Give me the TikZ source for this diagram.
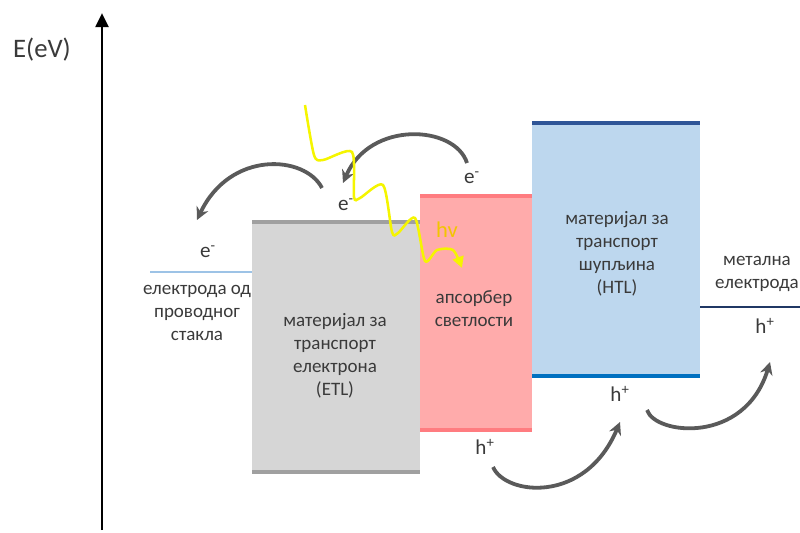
\documentclass[tikz,border=0pt]{standalone}
\usepackage{fontspec}
\setmainfont{Carlito}
\usepackage{xcolor}
\definecolor{txtgray}{HTML}{3A3A3A}
\definecolor{etlfill}{HTML}{D6D6D6}
\definecolor{etledge}{HTML}{A0A0A0}
\definecolor{absfill}{HTML}{FFABAB}
\definecolor{absedge}{HTML}{FF7C80}
\definecolor{htlfill}{HTML}{BDD7EE}
\definecolor{htltop}{HTML}{2F5597}
\definecolor{htlbot}{HTML}{0070C0}
\definecolor{ftoline}{HTML}{9DC3E6}
\definecolor{metline}{HTML}{203864}
\definecolor{hopgray}{HTML}{5A5A5A}
\definecolor{photon}{HTML}{F5F500}
\definecolor{photontxt}{HTML}{F2C500}
\usetikzlibrary{arrows.meta}

\begin{document}
\begin{tikzpicture}[
    x=0.025cm, y=-0.025cm,
    layer/.style={align=center, text=txtgray, inner sep=0pt,
      font=\fontsize{13.5}{16.3}\selectfont},
    carrier/.style={text=txtgray, inner sep=0pt, font=\fontsize{15}{17}\selectfont},
    hop/.style={-{Stealth[length=9pt, width=9pt]}, line width=2.7pt, draw=hopgray},
    edge/.style={line width=2.2pt}
]
  \useasboundingbox (0,0) rectangle (800,532);

  % Energy axis
  \draw[line width=2.1pt, -{Triangle[length=10pt, width=9pt]}] (102,530) -- (102,13);
  \node[text=txtgray, font=\fontsize{19}{22}\selectfont] (axis) at (42,50) {E(eV)};

  % Electrodes
  \draw[line width=1.6pt, ftoline] (150,272) -- (252,272);
  \draw[line width=2pt, metline] (700,307) -- (800,307);

  % ETL
  \fill[etlfill] (252,222) rectangle (420,472);
  \draw[edge, etledge] (252,222) -- (420,222);
  \draw[edge, etledge] (252,472) -- (420,472);

  % Absorber
  \fill[absfill] (420,196) rectangle (532,430);
  \draw[edge, absedge] (420,196) -- (532,196);
  \draw[edge, absedge] (420,430) -- (532,430);

  % HTL
  \fill[htlfill] (532,123) rectangle (700,376);
  \draw[edge, htltop] (532,123) -- (700,123);
  \draw[edge, htlbot] (532,376) -- (700,376);

  % Layer labels
  \node[layer] (fto) at (197,313) {електрода од\\проводног\\стакла};
  \node[layer] (etl) at (335,356) {материјал за\\транспорт\\електрона\\(ETL)};
  \node[layer] (abs) at (474,309) {апсорбер\\светлости};
  \node[layer] (htl) at (617,254) {материјал за\\транспорт\\шупљина\\(HTL)};
  \node[layer] (met) at (757,274) {метална\\електрода};

  % Carriers
  \node[carrier] (eFTO) at (208,252) {e\textsuperscript{-}};
  \node[carrier] (eETL) at (346,205) {e\textsuperscript{-}};
  \node[carrier] (eABS) at (472,178) {e\textsuperscript{-}};
  \node[carrier] (hABS) at (485,447) {h\textsuperscript{+}};
  \node[carrier] (hHTL) at (620,394) {h\textsuperscript{+}};
  \node[carrier] (hMET) at (765,326) {h\textsuperscript{+}};

  % Hop ends
  \coordinate (a1s) at (322,188);
  \coordinate (a1e) at (197,220);
  \coordinate (a2s) at (467,163);
  \coordinate (a2e) at (343,183);
  \coordinate (a3s) at (493,467);
  \coordinate (a3e) at (620,422);
  \coordinate (a4s) at (647,410);
  \coordinate (a4e) at (770,362);

  \draw[hop] (a1s) .. controls (305,155) and (230,150) .. (a1e);
  \draw[hop] (a2s) .. controls (455,125) and (370,120) .. (a2e);
  \draw[hop] (a3s) .. controls (505,495) and (585,505) .. (a3e);
  \draw[hop] (a4s) .. controls (655,435) and (745,445) .. (a4e);

  % Photon
  \draw[photon, line width=1.8pt, -{Triangle[length=8pt, width=8pt]}]
    plot[smooth, tension=0.45] coordinates {(305,105) (314,155) (323,160) (352,152)
      (354,197) (360,198) (383,185) (392,232) (398,233) (415,218) (425,261)
      (437,250) (453,250) (462,268)};
  \node[text=photontxt, font=\fontsize{16}{18}\selectfont] (hv) at (447,230) {hv};
\end{tikzpicture}
\end{document}
